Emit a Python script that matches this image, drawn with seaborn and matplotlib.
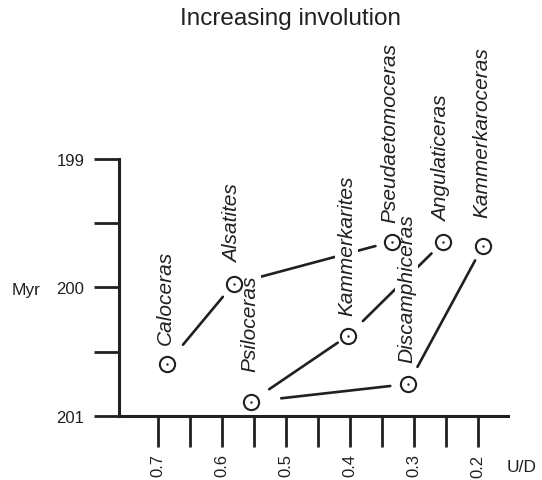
import matplotlib
matplotlib.use("Agg")

import matplotlib.pyplot as plt
import seaborn as sns

# Ammonite genera: umbilical ratio (U/D) against age (Myr)
genus = ["Caloceras", "Alsatites", "Psiloceras", "Kammerkarites",
         "Pseudaetomoceras", "Discamphiceras", "Angulaticeras", "Kammerkaroceras"]
ud = [0.686, 0.582, 0.555, 0.403, 0.335, 0.309, 0.254, 0.192]
age = [200.595, 199.973, 200.889, 200.375, 199.644, 200.751, 199.644, 199.675]

links = [
    ("Caloceras", "Alsatites"),
    ("Alsatites", "Pseudaetomoceras"),
    ("Psiloceras", "Kammerkarites"),
    ("Kammerkarites", "Angulaticeras"),
    ("Psiloceras", "Discamphiceras"),
    ("Discamphiceras", "Kammerkaroceras"),
]

x_major = [0.7, 0.6, 0.5, 0.4, 0.3, 0.2]
x_minor = [0.65, 0.55, 0.45, 0.35, 0.25]
y_major = [199, 200, 201]
y_minor = [199.5, 200.5]

# layout: gap (points) left at each end of a link, label offset above point
link_gap = [(18, 12), (18, 12), (16, 9), (15, 12), (22, 13), (14, 12)]
label_gap = [14, 16, 22, 15, 14, 16, 15, 21]

INK = "#231f20"

sns.set_theme(style="white")
plt.rcParams["font.family"] = ["Liberation Sans", "DejaVu Sans"]

fig = plt.figure(figsize=(5.42, 4.81), dpi=100)
ax = fig.add_axes([0.2196, 0.1331, 0.7177, 0.5343])

pos = {g: (x, y) for g, x, y in zip(genus, ud, age)}

for (a, b), (ga, gb) in zip(links, link_gap):
    ax.annotate("", xy=pos[b], xytext=pos[a],
                arrowprops=dict(arrowstyle="-", color=INK, lw=1.9,
                                shrinkA=ga, shrinkB=gb),
                zorder=1)

sns.scatterplot(x=ud, y=age, s=120, color="white", edgecolor=INK,
                linewidth=1.5, zorder=5, clip_on=False, ax=ax)
sns.scatterplot(x=ud, y=age, s=3, color=INK, linewidth=0,
                zorder=6, clip_on=False, ax=ax)

for g, x, y, off in zip(genus, ud, age, label_gap):
    ax.annotate(g, xy=(x, y), xytext=(-1, off), textcoords="offset points",
                rotation=90, ha="center", va="bottom", fontsize=15,
                style="italic", color=INK, zorder=3,
                bbox=dict(boxstyle="square,pad=0.1", fc="white", ec="none"))

ax.set_xlim(0.761, 0.153)
ax.set_ylim(201, 199)

ax.set_xticks(x_major)
ax.set_xticks(x_minor, minor=True)
ax.set_xticklabels([f"{v:.1f}" for v in x_major], rotation=90)
ax.set_yticks(y_major)
ax.set_yticks(y_minor, minor=True)
ax.set_yticklabels([str(v) for v in y_major])

for side in ("top", "right"):
    ax.spines[side].set_visible(False)
for side in ("left", "bottom"):
    ax.spines[side].set_color(INK)
    ax.spines[side].set_linewidth(2.2)

ax.tick_params(axis="x", which="both", direction="out", length=22, width=2.0,
               color=INK, pad=5, labelsize=12, labelcolor=INK)
ax.tick_params(axis="y", which="both", direction="out", length=18, width=2.0,
               color=INK, pad=7, labelsize=12, labelcolor=INK)
ax.tick_params(which="both", bottom=True, left=True)

ax.set_ylabel("Myr", rotation=0, fontsize=12.5, color=INK, va="center", ha="center")
ax.yaxis.set_label_coords(-0.239, 0.494)
ax.set_xlabel("U/D", fontsize=12.5, color=INK, va="center", ha="center")
ax.xaxis.set_label_coords(1.036, -0.198)

fig.text(0.536, 0.96, "Increasing involution", ha="center", va="center",
         fontsize=17.5, color=INK)

fig.savefig("out.png", dpi=100, facecolor="white")
